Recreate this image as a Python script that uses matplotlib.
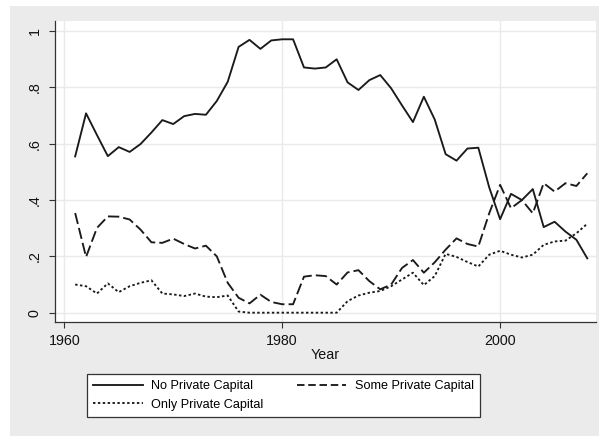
import numpy as np
import matplotlib
matplotlib.use('Agg')
from matplotlib import pyplot as plt
from matplotlib.patches import Rectangle
from matplotlib.lines import Line2D

plt.rcParams['font.family'] = ['Liberation Sans', 'DejaVu Sans']

years = list(range(1961, 2009))

no_private = [0.555, 0.708, 0.631, 0.556, 0.588, 0.571, 0.599, 0.640, 0.684, 0.670,
              0.698, 0.706, 0.703, 0.752, 0.820, 0.944, 0.969, 0.937, 0.967, 0.971,
              0.971, 0.871, 0.867, 0.871, 0.900, 0.818, 0.791, 0.826, 0.844, 0.797,
              0.736, 0.677, 0.767, 0.686, 0.563, 0.540, 0.583, 0.586, 0.445, 0.332,
              0.422, 0.400, 0.439, 0.304, 0.323, 0.288, 0.259, 0.193]

some_private = [0.354, 0.198, 0.301, 0.342, 0.341, 0.331, 0.295, 0.250, 0.248, 0.263,
                0.244, 0.228, 0.238, 0.200, 0.106, 0.053, 0.033, 0.064, 0.038, 0.030,
                0.030, 0.128, 0.133, 0.130, 0.100, 0.143, 0.151, 0.112, 0.083, 0.100,
                0.159, 0.187, 0.142, 0.179, 0.224, 0.264, 0.244, 0.235, 0.353, 0.454,
                0.371, 0.400, 0.353, 0.460, 0.430, 0.460, 0.450, 0.495]

only_private = [0.100, 0.094, 0.068, 0.104, 0.073, 0.094, 0.106, 0.115, 0.068, 0.065,
                0.059, 0.068, 0.057, 0.055, 0.061, 0.004, 0.0, 0.0, 0.0, 0.0,
                0.0, 0.0, 0.0, 0.0, 0.0, 0.041, 0.061, 0.071, 0.077, 0.094,
                0.118, 0.142, 0.098, 0.130, 0.209, 0.198, 0.180, 0.164, 0.206, 0.220,
                0.206, 0.196, 0.206, 0.241, 0.253, 0.256, 0.282, 0.316]

labels = ['No Private Capital', 'Some Private Capital', 'Only Private Capital']
x_ticks = [1960, 1980, 2000]
y_ticks = [0, 0.2, 0.4, 0.6, 0.8, 1.0]
y_tick_labels = ['0', '.2', '.4', '.6', '.8', '1']

W, H = 599, 436
fig = plt.figure(figsize=(W / 100, H / 100), dpi=100)
fig.patch.set_facecolor('white')

# stata-like gray graph region
bg = Rectangle((10 / W, 0), 1 - 10 / W, 1 - 6 / H, transform=fig.transFigure,
               facecolor='#ebebeb', edgecolor='none', zorder=-10)
fig.patches.append(bg)

ax = fig.add_axes([55 / W, 1 - 321.7 / H, (596 - 55) / W, (321.7 - 21) / H])
ax.set_facecolor('white')

line_col = '#1a1a1a'
lw = 1.35
l1, = ax.plot(years, no_private, color=line_col, lw=lw, linestyle='-')
l2, = ax.plot(years, some_private, color=line_col, lw=lw, linestyle=(0, (6, 2.2)))
l3, = ax.plot(years, only_private, color=line_col, lw=lw, linestyle=(0, (1.3, 1.3)))

ax.set_xlim(1959.15, 2008.8)
ax.set_ylim(-0.032, 1.036)

ax.set_xticks(x_ticks)
ax.set_yticks(y_ticks)
ax.set_yticklabels(y_tick_labels, rotation=90, va='center')
ax.grid(True, color='#eaeaea', lw=1.0)
ax.set_axisbelow(True)

for s in ['top', 'right']:
    ax.spines[s].set_visible(False)
for s in ['left', 'bottom']:
    ax.spines[s].set_color('#333333')
    ax.spines[s].set_linewidth(0.9)

fs_ax = 10.3
fs_leg = 9.1
ax.tick_params(axis='both', direction='out', length=4.5, width=0.8, color='#333333',
               labelsize=fs_ax, labelcolor='#111111')
ax.tick_params(axis='y', pad=5)
ax.tick_params(axis='x', pad=4)
ax.set_xlabel('Year', fontsize=fs_ax, labelpad=0, color='#111111')

handles = [Line2D([], [], color=line_col, lw=lw, linestyle='-'),
           Line2D([], [], color=line_col, lw=lw, linestyle=(0, (1.3, 1.3))),
           Line2D([], [], color=line_col, lw=lw, linestyle=(0, (4, 2)))]
leg = fig.legend(handles, [labels[0], labels[2], labels[1]], ncol=2,
                 loc='center', bbox_to_anchor=(283.5 / W, 1 - 395.5 / H),
                 fontsize=fs_leg, frameon=True, fancybox=False, framealpha=1,
                 edgecolor='#333333', handlelength=3.9, handletextpad=0.7,
                 columnspacing=2.6, labelspacing=0.5, borderpad=0.5,
                 borderaxespad=0)
leg.get_frame().set_linewidth(0.9)

plt.savefig('out.png', dpi=100)
